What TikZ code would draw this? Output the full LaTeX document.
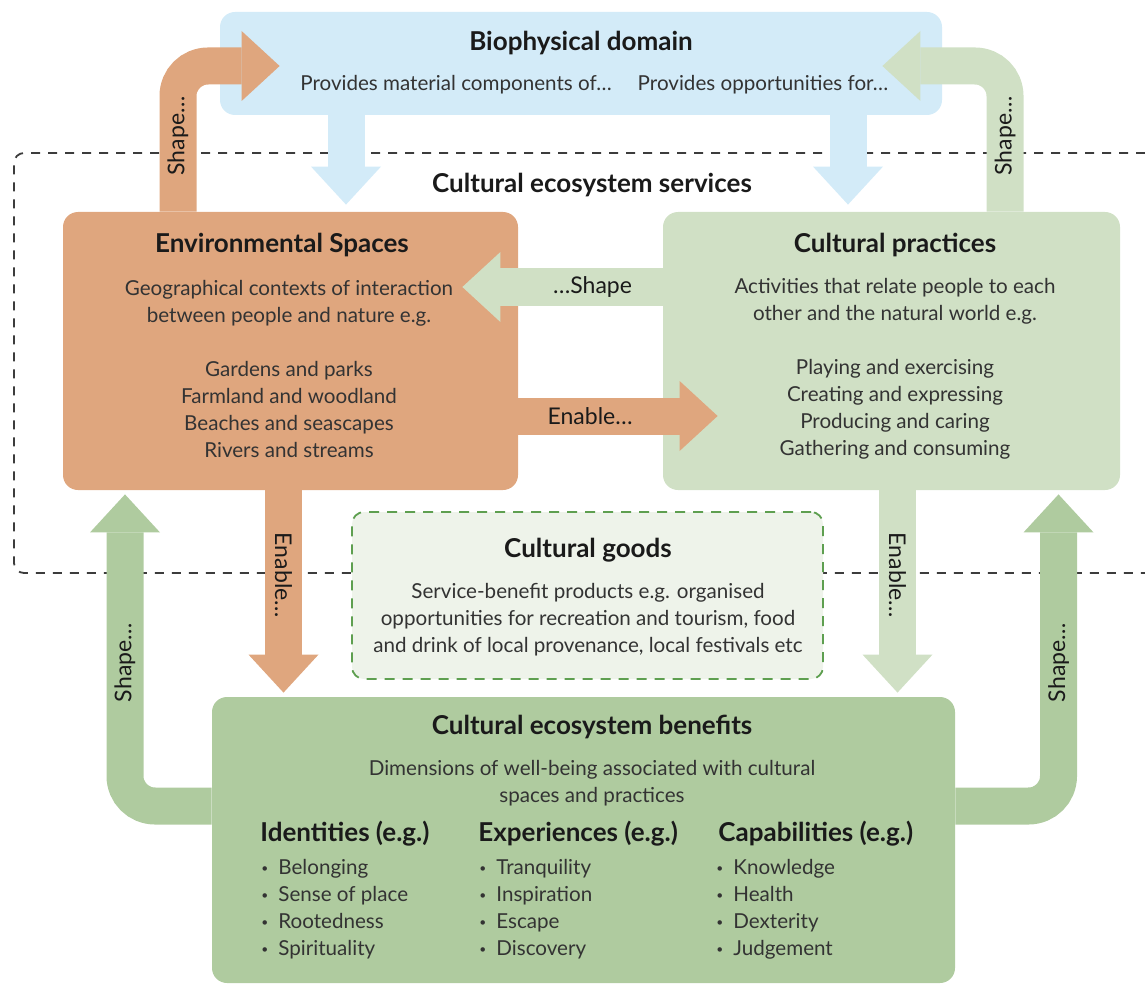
\documentclass[tikz,border=0pt]{standalone}
\usepackage{fontspec}
\setmainfont{Lato}
\usetikzlibrary{arrows.meta,calc}

\definecolor{skyblue}{HTML}{D3EBF8}
\definecolor{clay}{HTML}{DFA67E}
\definecolor{sage}{HTML}{D0E0C5}
\definecolor{moss}{HTML}{AFCB9F}
\definecolor{mint}{HTML}{EEF3EA}
\definecolor{leaf}{HTML}{5E9F50}
\definecolor{ink}{HTML}{1A1A1A}
\definecolor{slate}{HTML}{333333}
\definecolor{frameline}{HTML}{3C3C3C}

\newcommand{\dotitem}{\makebox[8.5pt][l]{\raisebox{0.2ex}{\fontsize{6}{6}\selectfont\textbullet}}}

\begin{document}
\begin{tikzpicture}
    [
    x=0.5pt, y=-0.5pt,
    box/.style={
        rectangle,
        rounded corners=7.5pt,
        inner sep=0pt
    },
    head/.style={font=\fontsize{13}{15}\selectfont\bfseries, text=ink},
    body/.style={font=\fontsize{10.3}{13.5}\selectfont, text=slate, align=center},
    list/.style={font=\fontsize{10.3}{13.5}\selectfont, text=slate, align=left, anchor=west, inner sep=0pt},
    tag/.style={font=\fontsize{11.5}{13}\selectfont, text=ink},
    flow/.style={line width=18.5pt, -{Triangle[width=35pt,length=19pt,line width=0pt]}},
    loopflow/.style={flow, rounded corners=15pt}
    ]

    \useasboundingbox (0,0) rectangle (1145,984);

% Services frame
    \draw[frameline, line width=0.9pt, dash pattern=on 4.5pt off 4pt, rounded corners=5pt]
        (1145,153) -- (14,153) -- (14,573) -- (1145,573);

% Boxes
    \node[box, fill=skyblue, minimum width=361pt, minimum height=51.5pt] (bio) at (581,63.5) {};
    \node[box, fill=clay, minimum width=227.5pt, minimum height=139pt] (envs) at (290.5,351) {};
    \node[box, fill=sage, minimum width=228.5pt, minimum height=139pt] (cprac) at (891.5,351) {};
    \node[box, fill=mint, draw=leaf, line width=0.9pt, dash pattern=on 5pt off 4pt, rounded corners=6pt,
        minimum width=235.5pt, minimum height=83.5pt] (goods) at (587.5,595.5) {};
    \node[box, fill=moss, minimum width=371.5pt, minimum height=143pt] (ben) at (583.5,840) {};

% Biophysical flows
    \draw[flow, skyblue] ($(bio.south)+(-235,0)$) -- ($(envs.north)+(55.5,-7)$);
    \draw[flow, skyblue] ($(bio.south)+(267,0)$) -- ($(cprac.north)+(-43.5,-7)$);

% Shape loops back to the biophysical domain
    \draw[loopflow, clay] ($(envs.north)+(-112.5,0)$) |- node[tag, pos=0.26, sloped] {Shape…} ($(bio.west)+(60,2.5)$);
    \draw[loopflow, sage] ($(cprac.north)+(113.5,0)$) |- node[tag, pos=0.26, sloped] {Shape…} ($(bio.east)+(-60,2.5)$);

% Between spaces and practices
    \draw[flow, sage] ($(cprac.west)+(0,-64)$) -- node[tag, pos=0.35] {…Shape} ($(envs.east)+(-56,-64)$);
    \draw[flow, clay] ($(envs.east)+(0,65)$) -- node[tag, pos=0.36] {Enable…} ($(cprac.west)+(55,65)$);

% Enable benefits
    \draw[flow, clay] ($(envs.south)+(-7,0)$) -- node[tag, pos=0.42, sloped] {Enable…} ($(ben.north)+(-300,-4)$);
    \draw[flow, sage] ($(cprac.south)+(6,0)$) -- node[tag, pos=0.42, sloped] {Enable…} ($(ben.north)+(314,-4)$);

% Benefits shape spaces and practices
    \draw[loopflow, moss] ($(ben.west)+(0,-34)$) -| node[tag, pos=0.73, sloped] {Shape…} ($(envs.south)+(-165.5,4)$);
    \draw[loopflow, moss] ($(ben.east)+(0,-34)$) -| node[tag, pos=0.73, sloped] {Shape…} ($(cprac.south)+(167,4)$);

% Biophysical domain
    \node[head] (biot) at (581,43) {Biophysical domain};
    \node[body] (bioa) at (456,85) {Provides material components of…};
    \node[body] (biob) at (763,85) {Provides opportunities for…};

    \node[head] (cest) at (592,185) {Cultural ecosystem services};

% Environmental spaces
    \node[head] (envt) at (282,245) {Environmental Spaces};
    \node[body] (envb) at (289,368.5) {Geographical contexts of interaction\\between people and nature e.g.\\[13.5pt]Gardens and parks\\Farmland and woodland\\Beaches and seascapes\\Rivers and streams};

% Cultural practices
    \node[head] (cpt) at (895,245) {Cultural practices};
    \node[body] (cpb) at (895,368.5) {Activities that relate people to each\\other and the natural world e.g.\\[13.5pt]Playing and exercising\\Creating and expressing\\Producing and caring\\Gathering and consuming};

% Cultural goods
    \node[head] (goodt) at (588,550) {Cultural goods};
    \node[body] (goodb) at (588,620) {Service-benefit products e.g. organised\\opportunities for recreation and tourism, food\\and drink of local provenance, local festivals etc};

% Cultural ecosystem benefits
    \node[head] (bent) at (592,727) {Cultural ecosystem benefits};
    \node[body] (benb) at (592,783) {Dimensions of well-being associated with cultural\\spaces and practices};

    \node[head, anchor=west, inner sep=0pt] (idh) at (260,834) {Identities (e.g.)};
    \node[head, anchor=west, inner sep=0pt] (exh) at (478,834) {Experiences (e.g.)};
    \node[head, anchor=west, inner sep=0pt] (cah) at (718,834) {Capabilities (e.g.)};

    \node[list] (idl) at (261,909.5) {\dotitem Belonging\\\dotitem Sense of place\\\dotitem Rootedness\\\dotitem Spirituality};
    \node[list] (exl) at (479,909.5) {\dotitem Tranquility\\\dotitem Inspiration\\\dotitem Escape\\\dotitem Discovery};
    \node[list] (cal) at (716,909.5) {\dotitem Knowledge\\\dotitem Health\\\dotitem Dexterity\\\dotitem Judgement};

\end{tikzpicture}
\end{document}
